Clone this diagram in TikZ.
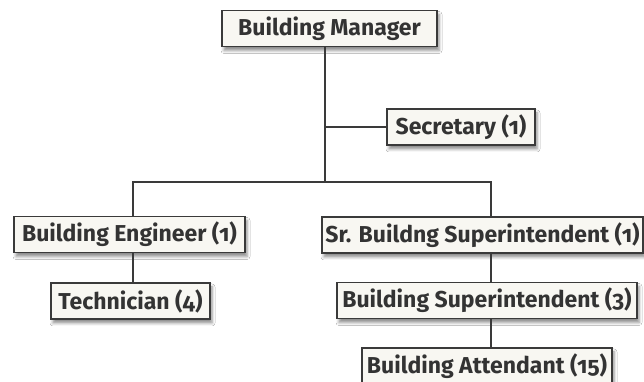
\documentclass[tikz,border=0pt]{standalone}
\usepackage{fontspec}
\setmainfont{Fira Sans}[Numbers=OldStyle]
\usetikzlibrary{shadows.blur}

\definecolor{boxline}{HTML}{3A3A3A}
\definecolor{boxfill}{HTML}{F8F7F2}

\tikzset{
	post/.style={draw=boxline, line width=1.3pt, fill=boxfill, text=black!80,
		minimum height=36pt, inner sep=0pt, font=\fontsize{23}{26}\selectfont\bfseries,
		blur shadow={shadow xshift=2pt, shadow yshift=-4pt, shadow blur radius=3pt, shadow opacity=45}},
	link/.style={draw=boxline, line width=1.3pt}
}

\begin{document}
\begin{tikzpicture}[x=1pt,y=1pt]
		\useasboundingbox[fill=white] (0,0) rectangle (644,382);
		\node[post, minimum width=215pt] (mgr) at (329.5,353.5) {Building Manager};
		\node[post, minimum width=148pt] (sec) at (461,255) {Secretary (1)};
		\node[post, minimum width=231pt] (eng) at (129.5,147.5) {Building Engineer (1)};
		\node[post, minimum width=159pt] (tech) at (130.5,81) {Technician (4)};
		\node[post, minimum width=321pt] (sr) at (482.5,147) {Sr. Buildng Superintendent (1)};
		\node[post, minimum width=300pt] (sup) at (487,81.5) {Building Superintendent (3)};
		\node[post, minimum width=250pt] (att) at (487,16) {Building Attendant (15)};
		\coordinate (top) at (325,0);
		\coordinate (bus) at (325,200);
		\coordinate (lcol) at (133,0);
		\coordinate (rcol) at (491,0);
		\draw[link] (top |- mgr.south) |- (sec.west);
		\draw[link] (top |- mgr.south) -- (bus);
		\draw[link] (lcol |- eng.north) |- (bus) -| (rcol |- sr.north);
		\draw[link] (lcol |- eng.south) -- (lcol |- tech.north);
		\draw[link] (rcol |- sr.south) -- (rcol |- sup.north);
		\draw[link] (rcol |- sup.south) -- (rcol |- att.north);
	\end{tikzpicture}
\end{document}
